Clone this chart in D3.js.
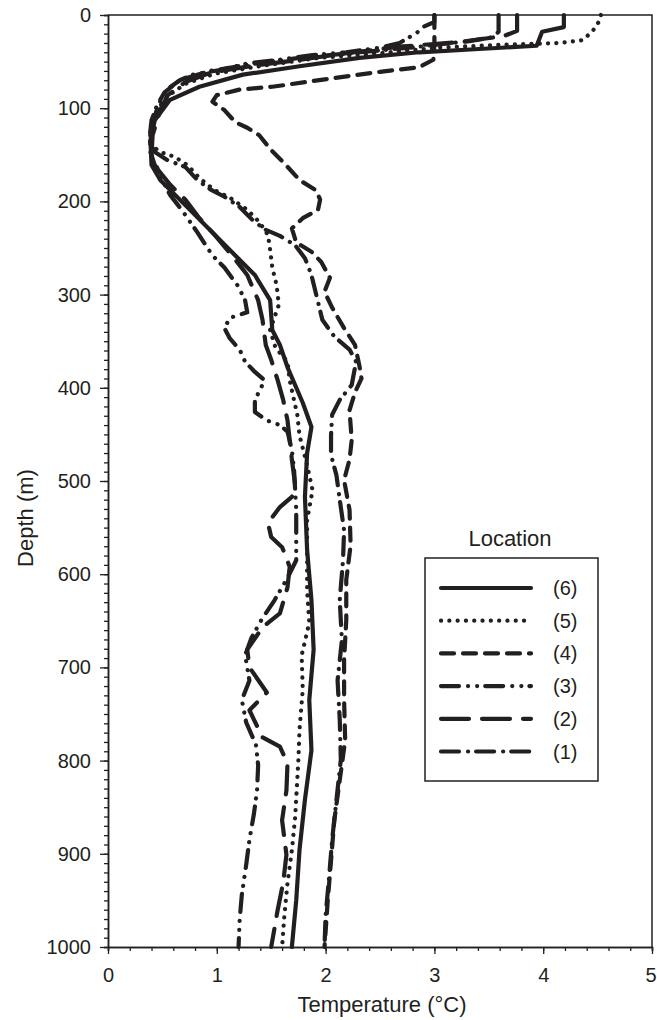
<!DOCTYPE html>
<html><head><meta charset="utf-8">
<script src="https://cdn.jsdelivr.net/npm/d3@7/dist/d3.min.js"></script>
<style>
body{margin:0;background:#fff}
svg{display:block}
text{font-family:"Liberation Sans",Arial,Helvetica,sans-serif;fill:#231f20}
</style>
</head><body>
<svg id="c" width="657" height="1020"></svg>
<script>
// ---- data ----
const locations = ["(6)", "(5)", "(4)", "(3)", "(2)", "(1)"];
const xTicks = [0, 1, 2, 3, 4, 5];
const yTicks = [0, 100, 200, 300, 400, 500, 600, 700, 800, 900, 1000];

const depth6 = [0,13,18,33,36.5,40,46,55,64,77,91,113,134,161,177,204,231,258,279,306,338,354,378,416,442,470,517,574,628,681,735,789,842,896,950,1000];
const temp6  = [4.19,4.19,3.99,3.94,3.41,2.86,2.31,1.76,1.24,0.84,0.57,0.43,0.39,0.40,0.48,0.71,0.94,1.17,1.35,1.49,1.51,1.58,1.65,1.79,1.87,1.83,1.81,1.83,1.87,1.89,1.85,1.87,1.81,1.76,1.73,1.69];

const depth5 = [0,7.5,18,27,30,32,35,41,46,55,63,74,87,102,123,139,147,152,161,175,188,196,209,222,236,252,271,290,311,338,357,372,392,408,429,451,483,510,542,574,617,652,687,724,767,799,861,896,931,968,1000];
const temp5  = [4.53,4.51,4.45,4.36,4.15,3.60,3.05,2.50,1.94,1.39,0.98,0.71,0.55,0.45,0.39,0.39,0.48,0.61,0.73,0.84,0.98,1.12,1.28,1.39,1.47,1.49,1.51,1.55,1.57,1.49,1.54,1.65,1.67,1.70,1.74,1.76,1.83,1.88,1.83,1.83,1.83,1.85,1.78,1.79,1.76,1.75,1.72,1.69,1.65,1.62,1.60];

const depth4 = [0,32,48,56,61,68,77,80,86,93,102,115,121,129,145,159,177,188,198,209,218,229,244,254,265,282,297,314,336,354,376,390,405,424,456,477,499,531,569,606,649,692,735,778,821,864,907,950,1000];
const temp4  = [3.00,3.00,2.99,2.86,2.50,2.06,1.51,1.21,1.00,0.96,1.07,1.17,1.28,1.39,1.50,1.62,1.76,1.91,1.95,1.93,1.79,1.69,1.73,1.87,1.96,2.04,1.99,2.06,2.17,2.27,2.31,2.33,2.27,2.22,2.24,2.22,2.17,2.22,2.23,2.19,2.19,2.17,2.17,2.18,2.13,2.08,2.05,2.02,1.99];

const depth3 = [0,7.5,13,19,30,35,40,43,48,52,59,64,70,80,93,111,129,147,161,177,193,211,233,258,271,290,306,319,325,336,347,359,372,383,392,406,415,426,435,440,447,467,488,531,585,604,628,649,668,687,714,735,759,783,805,832,858,885,912,944,971,1000];
const temp3  = [3.00,3.00,2.89,2.84,2.68,2.50,2.19,1.88,1.58,1.28,1.03,0.78,0.66,0.54,0.48,0.42,0.39,0.39,0.43,0.50,0.57,0.69,0.82,0.96,1.07,1.19,1.26,1.28,1.12,1.07,1.12,1.21,1.26,1.35,1.44,1.38,1.35,1.35,1.46,1.58,1.65,1.69,1.71,1.73,1.73,1.65,1.53,1.41,1.32,1.26,1.30,1.23,1.27,1.36,1.38,1.37,1.34,1.30,1.27,1.23,1.21,1.20];

const depth2 = [0,17,22.5,29,34,42,48,55,62,72,86,102,129,150,166,182,198,218,236,258,279,306,327,354,370,392,413,435,456,477,504,517,528,545,560,571,592,614,642,657,681,700,727,746,775,785,803,832,864,901,931,960,1000];
const temp2  = [3.76,3.76,3.64,3.23,2.68,2.13,1.76,1.30,0.94,0.71,0.55,0.48,0.41,0.40,0.46,0.57,0.71,0.84,0.98,1.14,1.28,1.38,1.42,1.45,1.50,1.56,1.61,1.65,1.67,1.69,1.72,1.69,1.58,1.47,1.50,1.60,1.67,1.65,1.58,1.42,1.28,1.30,1.46,1.30,1.42,1.58,1.65,1.64,1.60,1.64,1.61,1.56,1.50];

const depth1 = [0,18,24,28,34,40,46,53,60,70,83,97,113,134,147,156,163,177,187,195,206,219,230,237,247,261,279,303,327,345,359,372,397,413,429,451,472,494,520,553,585,628,671,714,756,799,842,885,928,966,1000];
const temp1  = [3.59,3.59,3.53,3.32,2.86,2.31,1.76,1.30,0.94,0.66,0.52,0.45,0.40,0.38,0.43,0.55,0.71,0.82,0.94,1.07,1.21,1.32,1.44,1.58,1.72,1.81,1.87,1.92,1.97,2.08,2.22,2.28,2.24,2.13,2.06,2.05,2.05,2.10,2.13,2.17,2.16,2.13,2.15,2.11,2.13,2.14,2.10,2.06,2.03,2.00,1.99];

const seriesDepths = [depth6, depth5, depth4, depth3, depth2, depth1];
const seriesTemps  = [temp6, temp5, temp4, temp3, temp2, temp1];

// ---- styles ----
const ink = "#231f20";
const dashes = ["none", "0.1,8.2", "13,9", "18,9,0.1,9,0.1,8", "28,13", "18,9,0.1,8"];
const lw = 4.2;

const svg = d3.select("#c");
const x = d3.scaleLinear().domain([0, 5]).range([108, 652]);
const y = d3.scaleLinear().domain([0, 1000]).range([15, 947]);

// profiles
const line = d3.line().x(d => x(d[1])).y(d => y(d[0]));
locations.forEach((loc, i) => {
  const pts = seriesDepths[i].map((dd, k) => [dd, seriesTemps[i][k]]);
  svg.append("path")
    .attr("d", line(pts))
    .attr("fill", "none")
    .attr("stroke", ink)
    .attr("stroke-width", lw)
    .attr("stroke-linecap", "round")
    .attr("stroke-linejoin", "round")
    .attr("stroke-dasharray", dashes[i]);
});

// frame (top and right)
svg.append("path")
  .attr("d", `M${x(0)},${y(0)}H${x(5)}V${y(1000)}`)
  .attr("fill", "none").attr("stroke", ink).attr("stroke-width", 1.5);

// axes
const fs = "20px";
const yMinor = d3.range(0, 1001, 10);
svg.append("g").attr("transform", `translate(${x(0)},0)`)
  .call(d3.axisLeft(y).tickValues(yMinor).tickSize(4).tickFormat(""));
const gy = svg.append("g").attr("transform", `translate(${x(0)},0)`)
  .call(d3.axisLeft(y).tickValues(yTicks).tickSize(8).tickSizeOuter(0).tickPadding(9).tickFormat(d3.format("d")));
gy.selectAll("text").style("font-size", fs).attr("fill", ink);

const xMinor = d3.range(0, 26).map(k => k * 0.2);
svg.append("g").attr("transform", `translate(0,${y(1000)})`)
  .call(d3.axisBottom(x).tickValues(xMinor).tickSize(4).tickFormat(""));
const gx = svg.append("g").attr("transform", `translate(0,${y(1000)})`)
  .call(d3.axisBottom(x).tickValues(xTicks).tickSize(7).tickSizeOuter(0).tickPadding(14).tickFormat(d3.format("d")));
gx.selectAll("text").style("font-size", fs).attr("fill", ink)
  .attr("dx", d => d === 5 ? "-1.5" : null);

svg.selectAll(".domain").attr("stroke", ink).attr("stroke-width", 1.5);
svg.selectAll(".tick line").attr("stroke", ink).attr("stroke-width", 1.3);

// axis titles
svg.append("text").attr("x", 382).attr("y", 1012).attr("text-anchor", "middle")
  .style("font-size", "22px").text("Temperature (°C)");
svg.append("text").attr("transform", "translate(33,518) rotate(-90)").attr("text-anchor", "middle")
  .style("font-size", "22px").text("Depth (m)");

// legend
svg.append("text").attr("x", 510).attr("y", 546).attr("text-anchor", "middle")
  .style("font-size", "22px").text("Location");
svg.append("rect").attr("x", 425).attr("y", 558).attr("width", 173).attr("height", 223)
  .attr("fill", "none").attr("stroke", ink).attr("stroke-width", 1.5);
locations.forEach((loc, i) => {
  const ry = 588 + i * 32.7;
  svg.append("line").attr("x1", 441).attr("x2", 531).attr("y1", ry).attr("y2", ry)
    .attr("stroke", ink).attr("stroke-width", lw)
    .attr("stroke-linecap", "round").attr("stroke-dasharray", dashes[i]);
  svg.append("text").attr("x", 553).attr("y", ry + 7).style("font-size", "20px").text(loc);
});
</script>
</body></html>
